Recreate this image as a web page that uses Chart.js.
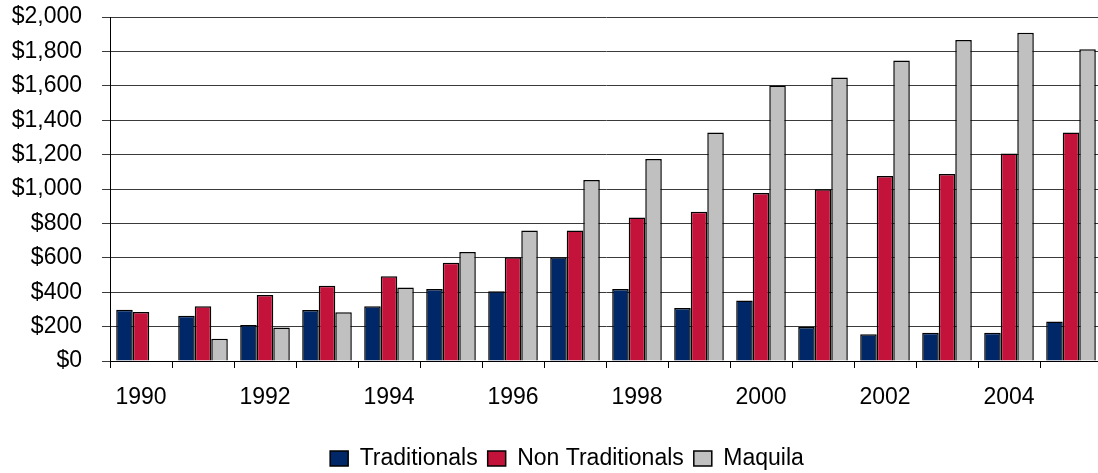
<!DOCTYPE html>
<html>
<head>
<meta charset="utf-8">
<script src="https://cdn.jsdelivr.net/npm/chart.js@4/dist/chart.umd.min.js"></script>
<style>
  html, body { margin: 0; padding: 0; background: #fff; overflow: hidden; }
  #wrap { width: 1102px; height: 473px; }
</style>
</head>
<body>
<div id="wrap"><canvas id="barChart"></canvas></div>
<script>
// data
var years = ["1990", "1991", "1992", "1993", "1994", "1995", "1996", "1997",
             "1998", "1999", "2000", "2001", "2002", "2003", "2004", "2005"];
var traditionals = [298, 263, 209, 296, 319, 418, 406, 603, 418, 308, 352, 197, 155, 164, 164, 230];
var nonTraditionals = [285, 319, 383, 437, 493, 571, 603, 758, 834, 868, 977, 998, 1075, 1087, 1207, 1329];
var maquila = [null, 130, 195, 284, 427, 634, 758, 1052, 1174, 1329, 1602, 1648, 1747, 1867, 1909, 1812];
var yTicks = [0, 200, 400, 600, 800, 1000, 1200, 1400, 1600, 1800, 2000];

Chart.defaults.font.family = '"Liberation Sans", Arial, sans-serif';
Chart.defaults.color = '#000';

// legend sits a bit right of the centre and a bit lower in the original
var legendShift = {
    id: "legendShift",
    afterLayout: function (chart) {
        chart.legend.left += 16;
        chart.legend.right += 16;
        chart.legend.top += 7;
        chart.legend.bottom += 7;
    },
};

var ctx = document.getElementById("barChart").getContext("2d");

var myChart = new Chart(ctx, {
    type: "bar",
    plugins: [legendShift],
    data: {
        labels: years,
        datasets: [
            {
                label: "Traditionals",
                data: traditionals,
                backgroundColor: "#002868",
                borderColor: "#000",
                borderWidth: 1.5,
            },
            {
                label: "Non Traditionals",
                data: nonTraditionals,
                backgroundColor: "#c4133b",
                borderColor: "#000",
                borderWidth: 1.5,
            },
            {
                label: "Maquila",
                data: maquila,
                backgroundColor: "#c0c0c0",
                borderColor: "#000",
                borderWidth: 1.5,
            },
        ],
    },
    options: {
        responsive: true,
        maintainAspectRatio: false,
        animation: false,
        layout: {
            padding: { top: 17, right: 0, left: 0, bottom: 0 },
        },
        datasets: {
            bar: {
                categoryPercentage: 0.8,
                barPercentage: 1.0,
            },
        },
        plugins: {
            legend: {
                position: "bottom",
                labels: {
                    boxWidth: 18,
                    boxHeight: 15,
                    padding: 10,
                    font: { size: 23 },
                    color: "#000",
                },
            },
            tooltip: { enabled: false },
        },
        scales: {
            x: {
                grid: {
                    offset: true,
                    drawOnChartArea: false,
                    color: "#000",
                    tickLength: 7,
                },
                border: { color: "#000", width: 1 },
                ticks: {
                    autoSkip: false,
                    maxRotation: 0,
                    padding: 16,
                    font: { size: 23 },
                    color: "#000",
                    callback: function (value, index) {
                        return index % 2 === 0 ? years[index] : "";
                    },
                },
                afterFit: function (axis) {
                    axis.height = 69;
                },
            },
            y: {
                min: 0,
                max: 2000,
                afterBuildTicks: function (axis) {
                    axis.ticks = yTicks.map(function (v) { return { value: v }; });
                },
                grid: {
                    color: "#3a3a3a",
                    lineWidth: 1,
                    tickLength: 8,
                },
                border: { color: "#000", width: 1 },
                ticks: {
                    padding: 20,
                    font: { size: 23 },
                    color: "#000",
                    callback: function (value) {
                        return "$" + value.toLocaleString("en-US");
                    },
                },
                afterFit: function (axis) {
                    axis.width = 110;
                    axis.paddingTop = 0;
                    axis.paddingBottom = 0;
                },
            },
        },
    },
});
</script>
</body>
</html>
